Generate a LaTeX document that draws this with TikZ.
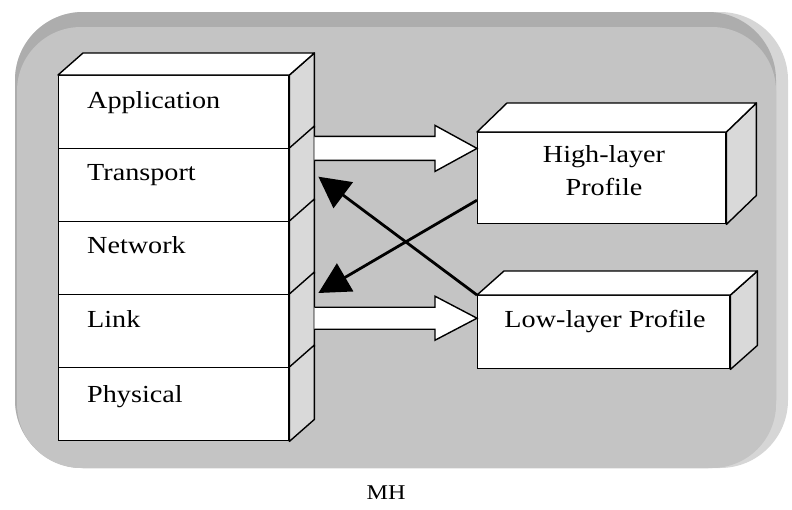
\documentclass[tikz,border=0pt]{standalone}
\usepackage{fontspec}
\setmainfont{Liberation Serif}[FakeStretch=1.15]
\usetikzlibrary{arrows.meta,calc}
\definecolor{bgmain}{HTML}{C4C4C4}
\definecolor{bgtop}{HTML}{ADADAD}
\definecolor{bgright}{HTML}{D6D6D6}
\definecolor{sideface}{HTML}{D9D9D9}
\begin{document}
\begin{tikzpicture}[x=1pt,y=-1pt,
  layer/.style={draw, fill=white, line width=1.4pt, minimum width=230pt, minimum height=73pt, inner sep=0pt, anchor=north west},
  box/.style={draw, fill=white, line width=1.4pt, inner sep=0pt, anchor=north west},
  sidef/.style={draw, fill=sideface, line width=1.4pt, line join=round},
  topf/.style={draw, fill=white, line width=1.4pt, line join=round},
  lbl/.style={font=\fontsize{24.5}{30}\selectfont, inner sep=0pt},
  hollow/.style={draw, fill=white, line width=1.4pt, line join=miter},
  blk/.style={line width=2.8pt, -{Triangle[length=31pt,width=32pt]}}
]
\useasboundingbox (0,0) rectangle (792,509);
% background panel
\fill[bgright, rounded corners=68pt] (15,12) rectangle (788,468);
\fill[bgtop, rounded corners=68pt] (15,12) rectangle (776,468);
\fill[bgmain, rounded corners=64pt] (17,27) rectangle (776,468);

% protocol stack
\node[layer] (app) at (58,75) {};
\node[layer] (tra) at (58,148) {};
\node[layer] (net) at (58,221) {};
\node[layer] (lin) at (58,294) {};
\node[layer] (phy) at (58,367) {};
\foreach \n in {app,tra,net,lin,phy}
  \path[sidef] (\n.north east) -- ++(25,-22) -- ($(\n.south east)+(25,-22)$) -- (\n.south east) -- cycle;
\path[topf] (app.north west) -- ++(25,-22) -- ($(app.north east)+(25,-22)$) -- (app.north east) -- cycle;

\node[lbl, anchor=base west] (tapp) at (87,108) {Application};
\node[lbl, anchor=base west] (ttra) at (87,180) {Transport};
\node[lbl, anchor=base west] (tnet) at (87,253) {Network};
\node[lbl, anchor=base west] (tlin) at (87,327) {Link};
\node[lbl, anchor=base west] (tphy) at (87,402) {Physical};

% profile boxes
\node[box, minimum width=248pt, minimum height=91pt] (high) at (477,132) {};
\path[sidef] (high.north east) -- ++(30,-29) -- ($(high.south east)+(30,-29)$) -- (high.south east) -- cycle;
\path[topf] (high.north west) -- ++(30,-29) -- ($(high.north east)+(30,-29)$) -- (high.north east) -- cycle;
\node[lbl, anchor=base] (thigh1) at (604,162) {High-layer};
\node[lbl, anchor=base] (thigh2) at (604,195) {Profile};

\node[box, minimum width=252pt, minimum height=73pt] (low) at (477,295) {};
\path[sidef] (low.north east) -- ++(27,-24) -- ($(low.south east)+(27,-24)$) -- (low.south east) -- cycle;
\path[topf] (low.north west) -- ++(27,-24) -- ($(low.north east)+(27,-24)$) -- (low.north east) -- cycle;
\node[lbl, anchor=base] (tlow) at (605,327) {Low-layer Profile};

% hollow block arrows
\coordinate (s1) at ($(app.south east)+(25,-1)$);
\coordinate (e1) at (s1 -| high.west);
\path[hollow] ($(s1)+(0,-12)$) -- ($(e1)+(-42,-12)$) -- ++(0,-11) -- (e1)
  -- ($(e1)+(-42,23)$) -- ++(0,-11) -- ($(s1)+(0,12)$);
\coordinate (s2) at ($(lin.east)+(25,-13)$);
\coordinate (e2) at (s2 -| low.west);
\path[hollow] ($(s2)+(0,-11)$) -- ($(e2)+(-42,-11)$) -- ++(0,-11) -- (e2)
  -- ($(e2)+(-42,22)$) -- ++(0,-11) -- ($(s2)+(0,11)$);

% crossing arrows
\coordinate (ta) at ($(tra.east)+(29,-8.5)$);
\coordinate (tb) at ($(lin.north east)+(29,-1)$);
\draw[blk] (low.north west) -- (ta);
\draw[blk] ($(high.west)+(0,22)$) -- (tb);

\node[font=\fontsize{21}{24}\selectfont, anchor=base, inner sep=0pt] (mh) at (386,499) {MH};
\end{tikzpicture}
\end{document}
